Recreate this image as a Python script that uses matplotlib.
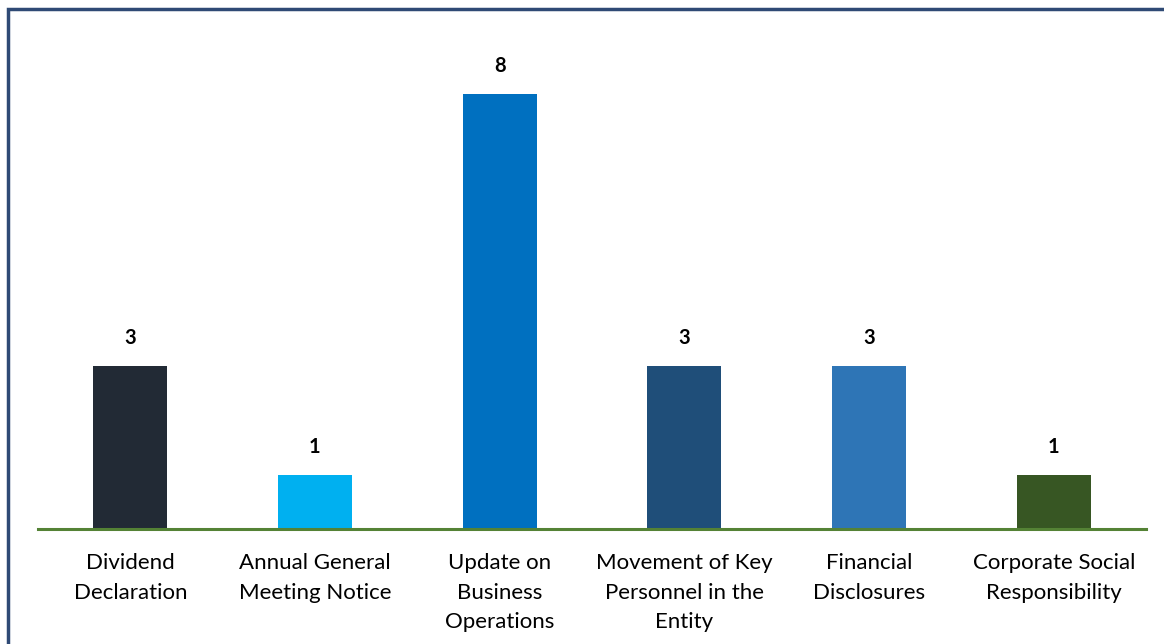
import matplotlib.pyplot as plt
from matplotlib.patches import Rectangle

categories = ["Dividend\nDeclaration", "Annual General\nMeeting Notice",
              "Update on\nBusiness\nOperations", "Movement of Key\nPersonnel in the\nEntity",
              "Financial\nDisclosures", "Corporate Social\nResponsibility"]
values = [3, 1, 8, 3, 3, 1]
colors = ["#222A35", "#00B0F0", "#0070C0", "#1F4E79", "#2E75B6", "#375623"]

plt.rcParams['font.family'] = ['Lato', 'DejaVu Sans']

fig = plt.figure(figsize=(11.64, 6.44), dpi=100)
ax = fig.add_axes([0.0326, 0.1786, 0.952, 0.76])

x = range(len(values))
bars = ax.bar(x, values, width=0.4, color=colors, zorder=2)
for b, v in zip(bars, values):
    ax.text(b.get_x() + b.get_width() / 2, v + 0.33, str(v), ha='center', va='bottom',
            fontsize=14.5, fontweight='bold', color='#000000')

ax.set_xlim(-0.5, 5.5)
ax.set_ylim(0, 9)
ax.axhline(0, color='#548235', lw=2.2, zorder=3, clip_on=False)
for s in ax.spines.values():
    s.set_visible(False)
ax.set_yticks([])
ax.set_xticks(list(x))
ax.set_xticklabels(categories, fontsize=16, color='#000000', linespacing=1.62)
ax.tick_params(axis='x', length=0, pad=17)

# outer frame, runs off the right and bottom edges
fig.patches.append(Rectangle((8 / 1164, -0.05), 1.2, (644 - 9) / 644 + 0.05,
                             transform=fig.transFigure, fill=False,
                             edgecolor='#2F4A75', lw=2.5))

fig.savefig('out.png', dpi=100)
